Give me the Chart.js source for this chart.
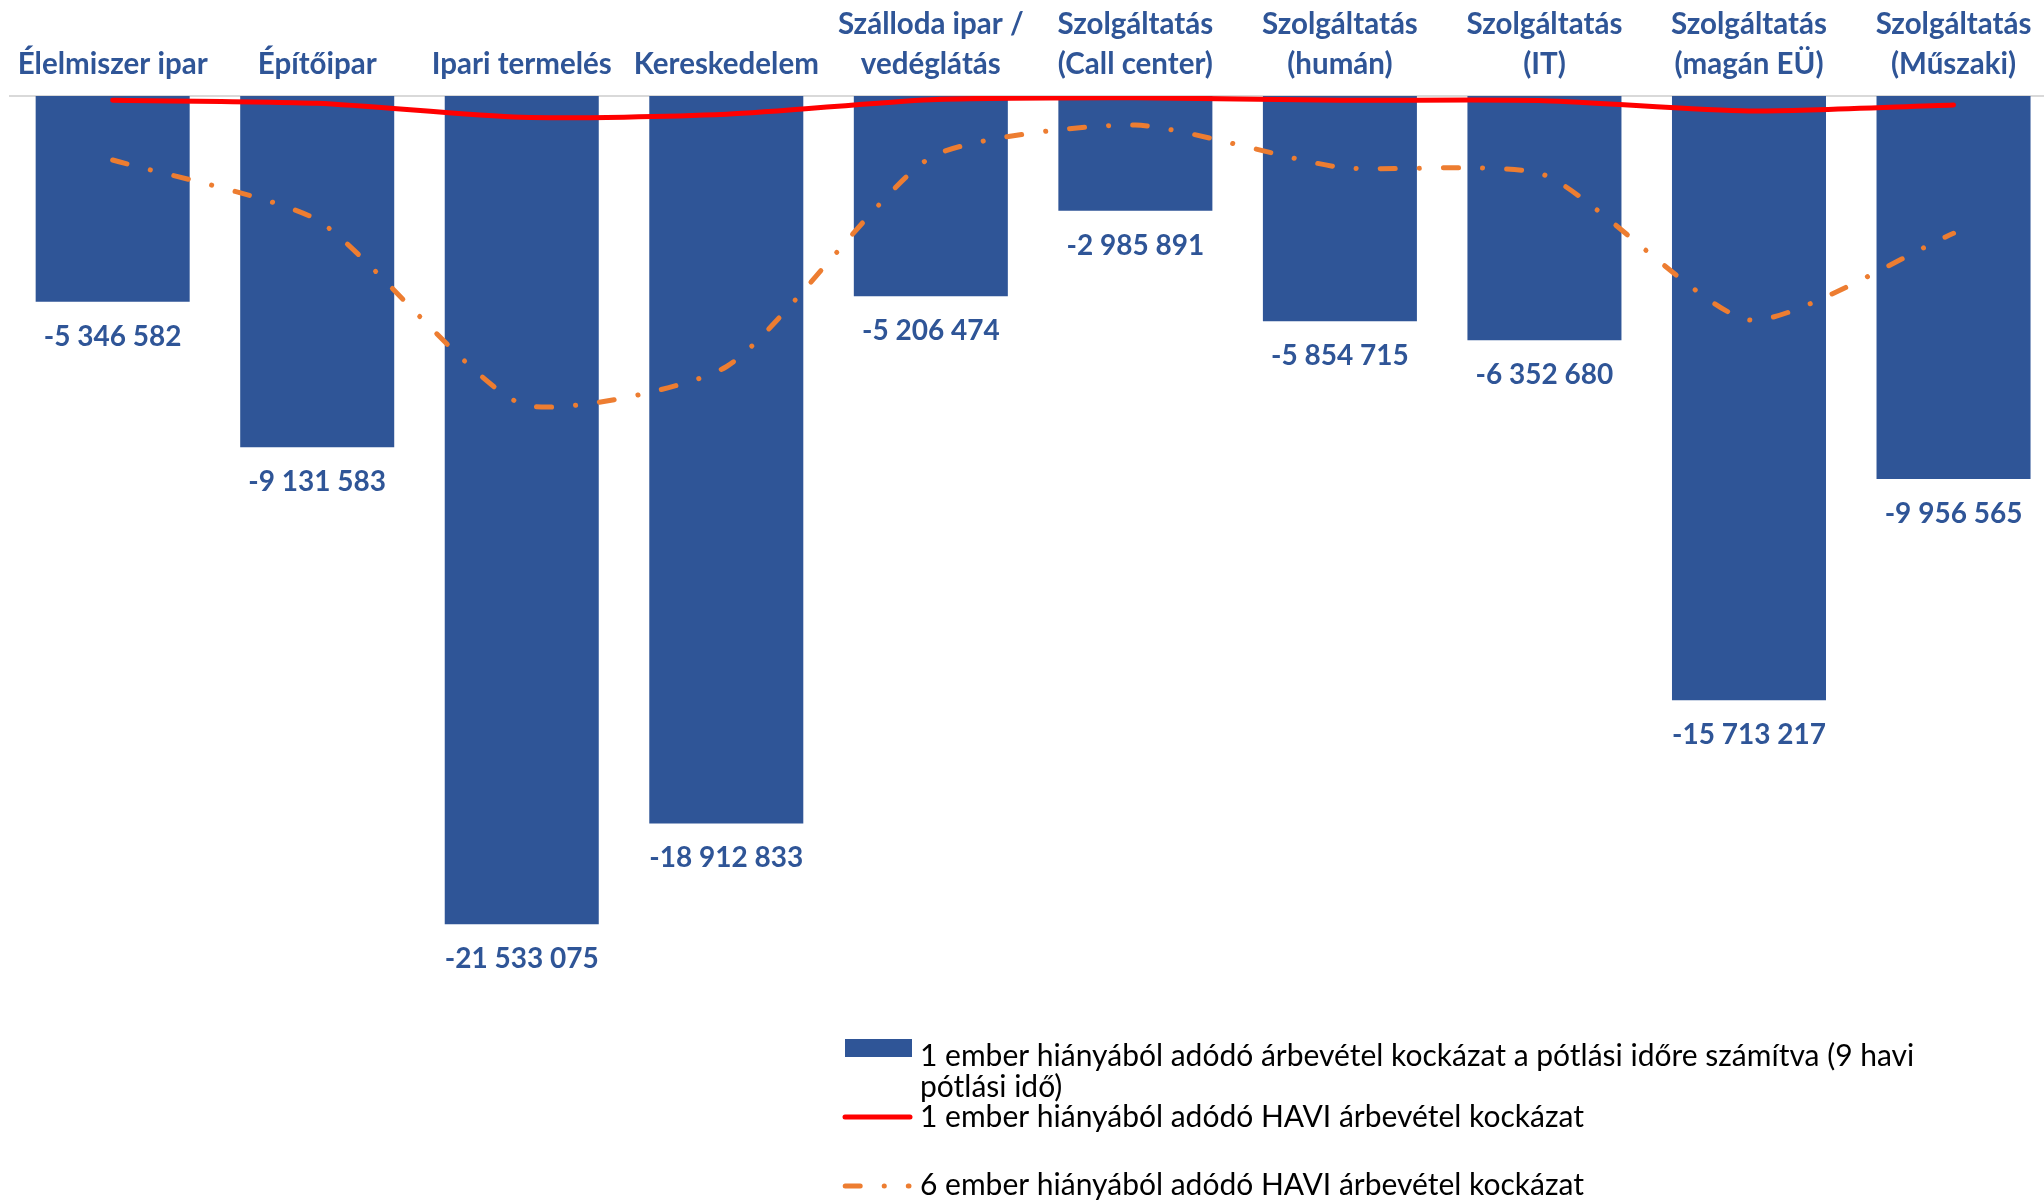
<!DOCTYPE html>
<html lang="hu">
<head>
<meta charset="utf-8">
<title>Árbevétel kockázat ágazatonként</title>
<script src="https://cdn.jsdelivr.net/npm/chart.js@4.4.1/dist/chart.umd.min.js"></script>
<style>
  html, body { margin: 0; padding: 0; background: #ffffff; overflow: hidden; }
  #wrap { position: relative; width: 2060px; height: 1202px; }
</style>
</head>
<body>
<div id="wrap"><canvas id="chart"></canvas></div>
<script>
// Ágazatok (kategóriák), többsoros címkékkel
const categories = [
  ['Élelmiszer ipar'],
  ['Építőipar'],
  ['Ipari termelés'],
  ['Kereskedelem'],
  ['Szálloda ipar /', 'vedéglátás'],
  ['Szolgáltatás', '(Call center)'],
  ['Szolgáltatás', '(humán)'],
  ['Szolgáltatás', '(IT)'],
  ['Szolgáltatás', '(magán EÜ)'],
  ['Szolgáltatás', '(Műszaki)']
];

// 1 ember hiányából adódó árbevétel kockázat a pótlási időre (9 hónap)
const riskReplacement = [-5346582, -9131583, -21533075, -18912833, -5206474, -2985891, -5854715, -6352680, -15713217, -9956565];

// 1 ember hiányából adódó HAVI árbevétel kockázat
const riskMonthlyOne = [-112000, -190000, -554000, -476000, -96000, -44000, -112000, -122000, -390000, -234000];

// 6 ember hiányából adódó HAVI árbevétel kockázat
const riskMonthlySix = [-1664000, -3224000, -8008000, -7040000, -1594000, -754000, -1854000, -2054000, -5824000, -3570000];

const seriesNames = [
  ['1 ember hiányából adódó árbevétel kockázat a pótlási időre számítva (9 havi', 'pótlási idő)'],
  ['1 ember hiányából adódó HAVI árbevétel kockázat'],
  ['6 ember hiányából adódó HAVI árbevétel kockázat']
];

const yMin = -25000000;
const yMax = 0;

const BLUE = '#2F5597';
const RED = '#FF0000';
const ORANGE = '#ED7D31';
const LABEL_FONT = "Lato, 'Noto Sans', sans-serif";
const ORANGE_DASH = [15, 24, 0.1, 24];

function formatHu(v) {
  const s = Math.abs(Math.round(v)).toString().replace(/\B(?=(\d{3})+(?!\d))/g, ' ');
  return (v < 0 ? '-' : '') + s;
}

// Értékcímkék az oszlopok alatt
const barValueLabels = {
  id: 'barValueLabels',
  afterDatasetsDraw(chart) {
    const meta = chart.getDatasetMeta(0);
    const ctx = chart.ctx;
    ctx.save();
    ctx.font = 'bold 28px ' + LABEL_FONT;
    ctx.fillStyle = BLUE;
    ctx.textAlign = 'center';
    ctx.textBaseline = 'alphabetic';
    meta.data.forEach((bar, i) => {
      const v = chart.data.datasets[0].data[i];
      ctx.fillText(formatHu(v), bar.x, bar.y + 44);
    });
    ctx.restore();
  }
};

// Jelmagyarázat a diagram jobb alsó részén
const sideLegend = {
  id: 'sideLegend',
  afterDraw(chart) {
    const ctx = chart.ctx;
    ctx.save();
    // oszlop minta
    ctx.fillStyle = BLUE;
    ctx.fillRect(845, 1039, 67, 18);
    // piros vonal minta
    ctx.strokeStyle = RED;
    ctx.lineWidth = 5;
    ctx.lineCap = 'round';
    ctx.beginPath();
    ctx.moveTo(845, 1117);
    ctx.lineTo(910, 1117);
    ctx.stroke();
    // narancs szaggatott-pontozott minta
    ctx.strokeStyle = ORANGE;
    ctx.setLineDash(ORANGE_DASH);
    ctx.beginPath();
    ctx.moveTo(845.2, 1186);
    ctx.lineTo(909, 1186);
    ctx.stroke();
    ctx.setLineDash([]);
    // szövegek
    ctx.fillStyle = '#000000';
    ctx.font = '30px ' + LABEL_FONT;
    ctx.textAlign = 'left';
    ctx.textBaseline = 'alphabetic';
    ctx.fillText(seriesNames[0][0], 920, 1066);
    ctx.fillText(seriesNames[0][1], 920, 1097);
    ctx.fillText(seriesNames[1][0], 920, 1127);
    ctx.fillText(seriesNames[2][0], 920, 1195);
    ctx.restore();
  }
};

new Chart(document.getElementById('chart'), {
  type: 'bar',
  data: {
    labels: categories,
    datasets: [
      {
        type: 'bar',
        label: seriesNames[0].join(' '),
        data: riskReplacement,
        backgroundColor: BLUE,
        borderWidth: 0,
        barPercentage: 0.753,
        categoryPercentage: 1.0,
        order: 3
      },
      {
        type: 'line',
        label: seriesNames[1][0],
        data: riskMonthlyOne,
        borderColor: RED,
        borderWidth: 5,
        borderCapStyle: 'round',
        borderJoinStyle: 'round',
        pointRadius: 0,
        tension: 0.25,
        fill: false,
        order: 2
      },
      {
        type: 'line',
        label: seriesNames[2][0],
        data: riskMonthlySix,
        borderColor: ORANGE,
        borderWidth: 5,
        borderDash: ORANGE_DASH,
        borderCapStyle: 'round',
        borderJoinStyle: 'round',
        pointRadius: 0,
        tension: 0.2,
        fill: false,
        order: 1
      }
    ]
  },
  options: {
    responsive: true,
    maintainAspectRatio: false,
    animation: false,
    layout: { padding: { left: 10.4, right: 4.2, top: 0, bottom: 144.5 } },
    plugins: {
      legend: { display: false },
      tooltip: { enabled: false }
    },
    scales: {
      x: {
        position: 'top',
        grid: { display: false, drawTicks: false },
        border: { display: true, color: '#D9D9D9', width: 2 },
        ticks: {
          color: BLUE,
          padding: 11,
          autoSkip: false,
          maxRotation: 0,
          font: { family: LABEL_FONT, size: 29.5, weight: 'bold', lineHeight: 1.36 }
        },
        afterFit(scale) {
          scale.height = 96;
          scale.paddingLeft = 0;
          scale.paddingRight = 0;
        }
      },
      y: {
        display: false,
        min: yMin,
        max: yMax
      }
    }
  },
  plugins: [barValueLabels, sideLegend]
});
</script>
</body>
</html>
